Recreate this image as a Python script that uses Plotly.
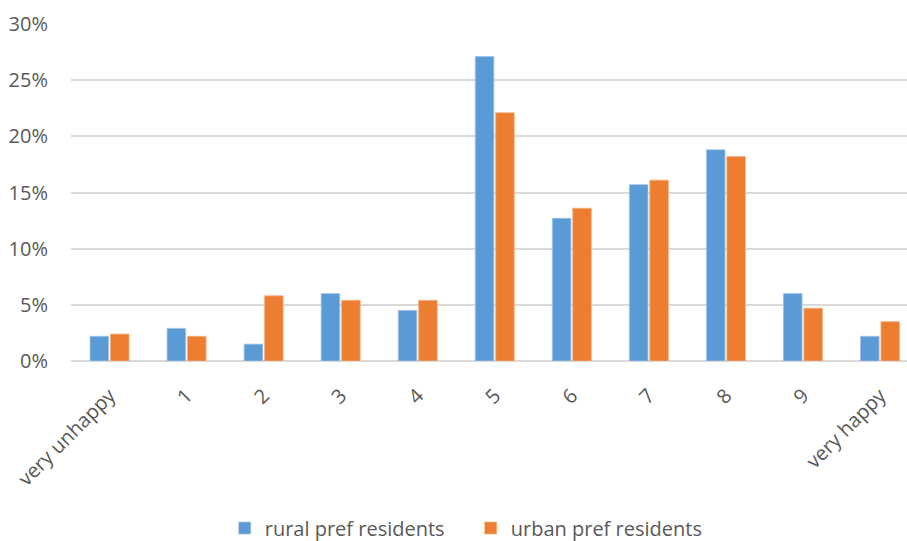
import plotly.graph_objects as go

# Happiness scale categories (0 = very unhappy ... 10 = very happy)
categories = ["very unhappy", "1", "2", "3", "4", "5", "6", "7", "8", "9", "very happy"]

# Share of respondents at each level (%)
rural_pref = [2.2, 2.9, 1.5, 6.0, 4.5, 27.1, 12.7, 15.7, 18.8, 6.0, 2.2]
urban_pref = [2.4, 2.2, 5.8, 5.4, 5.4, 22.1, 13.6, 16.1, 18.2, 4.7, 3.5]

y_ticks = [0, 5, 10, 15, 20, 25, 30]
y_tick_labels = [f"{v}%" for v in y_ticks]

font_family = "Open Sans, Noto Sans, sans-serif"
text_grey = "#595959"

fig = go.Figure()
fig.add_trace(go.Bar(
    x=categories, y=rural_pref, name="rural pref residents",
    marker=dict(color="#5B9BD5", line=dict(color="#9DC3E6", width=0.8)),
))
fig.add_trace(go.Bar(
    x=categories, y=urban_pref, name="urban pref residents",
    marker=dict(color="#ED7D31", line=dict(color="#F4B183", width=0.8)),
))

fig.update_layout(
    width=907, height=541,
    margin=dict(l=71, r=0, t=24, b=180),
    paper_bgcolor="white", plot_bgcolor="white",
    barmode="group", bargap=0.47, bargroupgap=0.09,
    font=dict(family=font_family, size=20, color=text_grey),
    showlegend=True,
    legend=dict(
        orientation="h", xref="container", yref="container",
        x=0.519, xanchor="center", y=0.024, yanchor="middle",
        font=dict(size=20, color=text_grey), itemwidth=30, traceorder="normal",
        entrywidth=201,
    ),
    xaxis=dict(
        type="category", range=[-0.5, 10.35], tickangle=-45,
        showgrid=False, showline=False, ticks="", ticklabelstandoff=18,
        tickfont=dict(size=20, color=text_grey),
    ),
    yaxis=dict(
        range=[0, 30], tickvals=y_ticks, ticktext=y_tick_labels,
        showgrid=True, gridcolor="#D9D9D9", gridwidth=1.5,
        zeroline=True, zerolinecolor="#D9D9D9", zerolinewidth=1.5,
        showline=False, ticks="", ticklabelstandoff=22,
        tickfont=dict(size=20, color=text_grey),
    ),
)

fig.write_html("out.html")
